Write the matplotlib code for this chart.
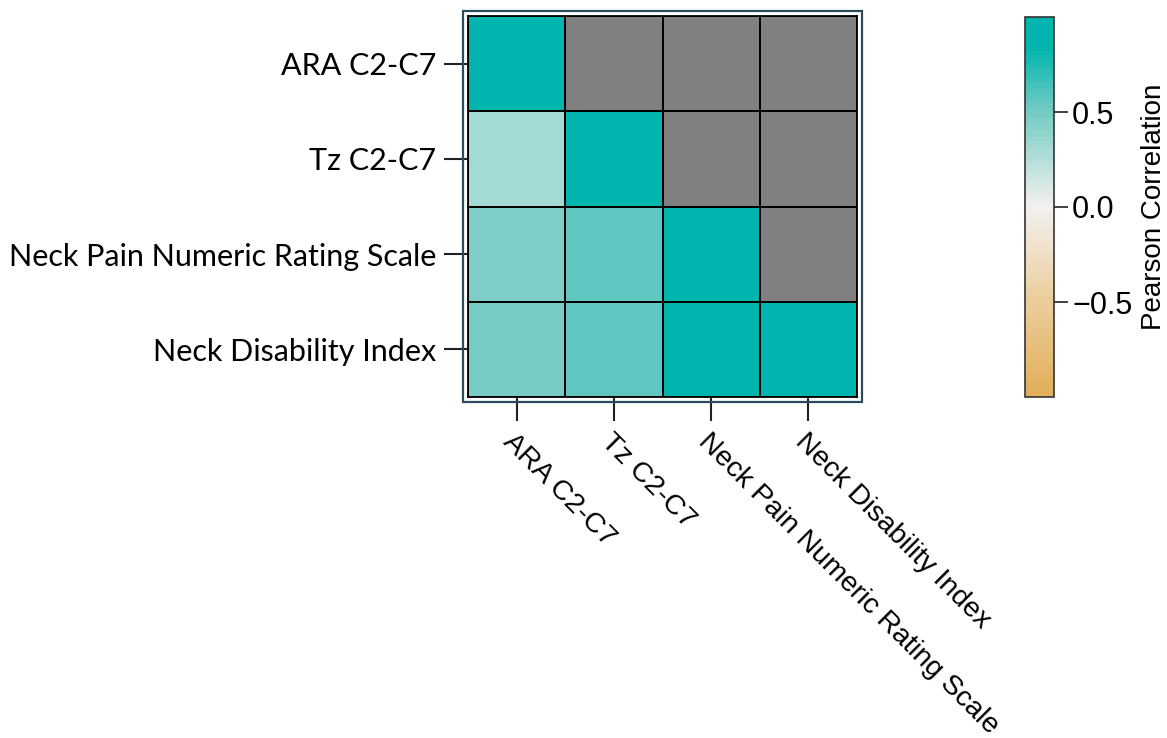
import numpy as np
import matplotlib
matplotlib.use("Agg")
import matplotlib.pyplot as plt
from matplotlib.colors import LinearSegmentedColormap, Normalize
from matplotlib.patches import Rectangle

labels = ["ARA C2-C7", "Tz C2-C7", "Neck Pain Numeric Rating Scale", "Neck Disability Index"]
row_ara = [1.00, np.nan, np.nan, np.nan]
row_tz = [0.30, 1.00, np.nan, np.nan]
row_nprs = [0.45, 0.55, 1.00, np.nan]
row_ndi = [0.48, 0.55, 0.92, 1.00]
cbar_ticks = [-0.5, 0.0, 0.5]

corr = np.ma.masked_invalid(np.array([row_ara, row_tz, row_nprs, row_ndi]))

vmin, vmax = -1.0, 1.0
nodes = [(-1.0, "#E2AF5A"), (-0.5, "#EBCD9C"), (0.0, "#F4F1EF"), (0.5, "#76CCC5"), (0.85, "#00B5AD"), (1.0, "#00B5AD")]
cmap = LinearSegmentedColormap.from_list(
    "pc", [((v - vmin) / (vmax - vmin), c) for v, c in nodes], N=80)
cmap.set_bad("#808080")
norm = Normalize(vmin=vmin, vmax=vmax)

W, H = 1167, 738
fig = plt.figure(figsize=(W / 100, H / 100), dpi=100)

def fx(px):
    return px / W

def fy(py):
    return 1 - py / H

ax_l, ax_r, ax_t, ax_b = 468, 857, 16, 397
ax = fig.add_axes([fx(ax_l), fy(ax_b), fx(ax_r - ax_l), (ax_b - ax_t) / H])
n = len(labels)
ax.pcolormesh(np.arange(n + 1), np.arange(n + 1), corr, cmap=cmap, norm=norm,
              edgecolor="black", linewidth=1.1)
ax.set_xlim(0, n)
ax.set_ylim(n, 0)
for s in ax.spines.values():
    s.set_color("black")
    s.set_linewidth(1.3)

ax.set_xticks(np.arange(n) + 0.5)
ax.set_yticks(np.arange(n) + 0.5)
ax.set_yticklabels(labels, fontsize=22, family=["Lato", "DejaVu Sans"])
ax.set_xticklabels(labels, fontsize=20.5, family=["Liberation Sans", "DejaVu Sans"],
                   rotation=-45, ha="left", va="top", rotation_mode="anchor")
ax.tick_params(axis="both", length=17, width=1.5, color="#222222", pad=6)

# outer frame
pad = 5
frame = Rectangle((fx(ax_l - pad), fy(ax_b + pad)), fx(ax_r - ax_l + 2 * pad),
                  (ax_b - ax_t + 2 * pad) / H, transform=fig.transFigure,
                  fill=False, edgecolor="#2E4B5B", linewidth=1.6, zorder=5)
fig.add_artist(frame)

# colorbar
cb_l, cb_r, cb_t, cb_b = 1025, 1054, 17, 397
cax = fig.add_axes([fx(cb_l), fy(cb_b), fx(cb_r - cb_l), (cb_b - cb_t) / H])
sm = matplotlib.cm.ScalarMappable(norm=norm, cmap=cmap)
cb = fig.colorbar(sm, cax=cax, ticks=cbar_ticks)
cb.outline.set_edgecolor("#333333")
cb.outline.set_linewidth(1.2)
cax.tick_params(labelsize=22, length=10, width=1.3, color="#333333", pad=3)
for t in cax.get_yticklabels():
    t.set_family(["Liberation Sans", "DejaVu Sans"])
cb.set_label("Pearson Correlation", fontsize=20, family=["Liberation Sans", "DejaVu Sans"], labelpad=6)

fig.savefig("out.png", dpi=100, facecolor="white")
